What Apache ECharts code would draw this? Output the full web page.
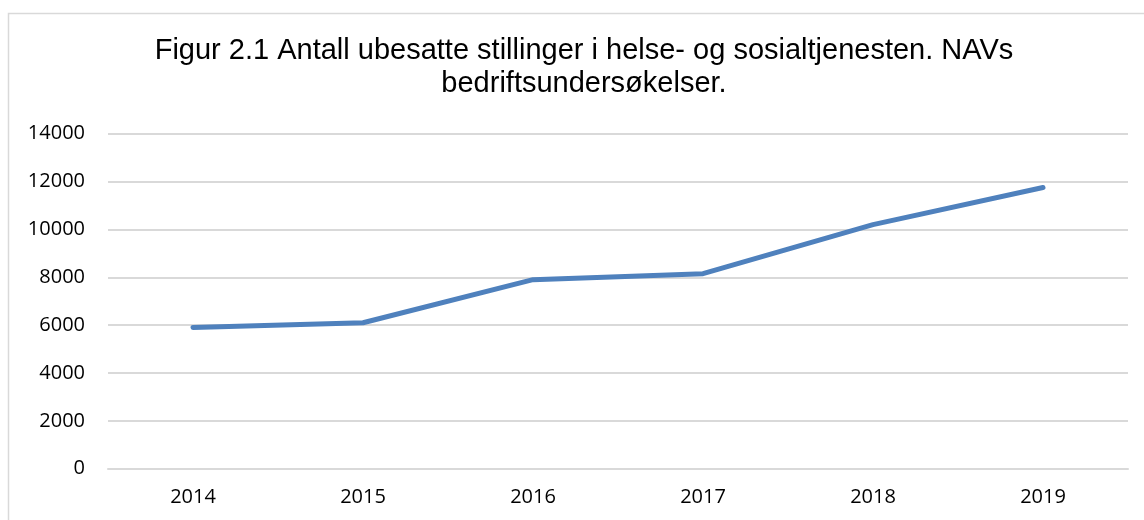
<!DOCTYPE html>
<html>
<head>
<meta charset="utf-8">
<script src="https://cdn.jsdelivr.net/npm/echarts@6/dist/echarts.min.js"></script>
<style>
html,body{margin:0;padding:0;background:#fff;}
#chart{width:1144px;height:520px;}
</style>
</head>
<body>
<div id="chart"></div>
<script>
var titleText = 'Figur 2.1 Antall ubesatte stillinger i helse- og sosialtjenesten. NAVs\nbedriftsundersøkelser.';
var years = ['2014', '2015', '2016', '2017', '2018', '2019'];
var vacancies = [5900, 6100, 7900, 8150, 10200, 11750];
var yTicks = [0, 2000, 4000, 6000, 8000, 10000, 12000, 14000];

var chart = echarts.init(document.getElementById('chart'), null, {renderer: 'canvas'});
chart.setOption({
  animation: false,
  backgroundColor: '#ffffff',
  title: {
    text: titleText,
    left: 584,
    top: 34,
    padding: 0,
    textAlign: 'center',
    textStyle: {
      fontFamily: 'Liberation Sans',
      fontSize: 29,
      fontWeight: 'normal',
      color: '#000000',
      lineHeight: 33
    }
  },
  graphic: [{
    type: 'rect',
    shape: {x: 8.5, y: 13.5, width: 1300, height: 700},
    style: {fill: 'none', stroke: '#d9d9d9', lineWidth: 1.5},
    silent: true,
    z: -1
  }],
  grid: {left: 108, right: 16, top: 133.7, bottom: 51.3, containLabel: false},
  xAxis: {
    type: 'category',
    data: years,
    boundaryGap: true,
    axisLine: {show: true, lineStyle: {color: '#d9d9d9', width: 2}},
    axisTick: {show: false},
    axisLabel: {
      margin: 19,
      fontFamily: 'Open Sans',
      fontSize: 20,
      color: '#000000'
    }
  },
  yAxis: {
    type: 'value',
    min: yTicks[0],
    max: yTicks[yTicks.length - 1],
    interval: 2000,
    axisLine: {show: false},
    axisTick: {show: false},
    splitLine: {lineStyle: {color: '#d9d9d9', width: 2}},
    axisLabel: {
      margin: 23,
      fontFamily: 'Open Sans',
      fontSize: 20,
      color: '#000000',
      formatter: function (v) { return String(v); }
    }
  },
  series: [{
    type: 'line',
    data: vacancies,
    showSymbol: false,
    symbol: 'none',
    lineStyle: {color: '#4f81bd', width: 5, cap: 'round', join: 'round'},
    itemStyle: {color: '#4f81bd'}
  }]
});
</script>
</body>
</html>
